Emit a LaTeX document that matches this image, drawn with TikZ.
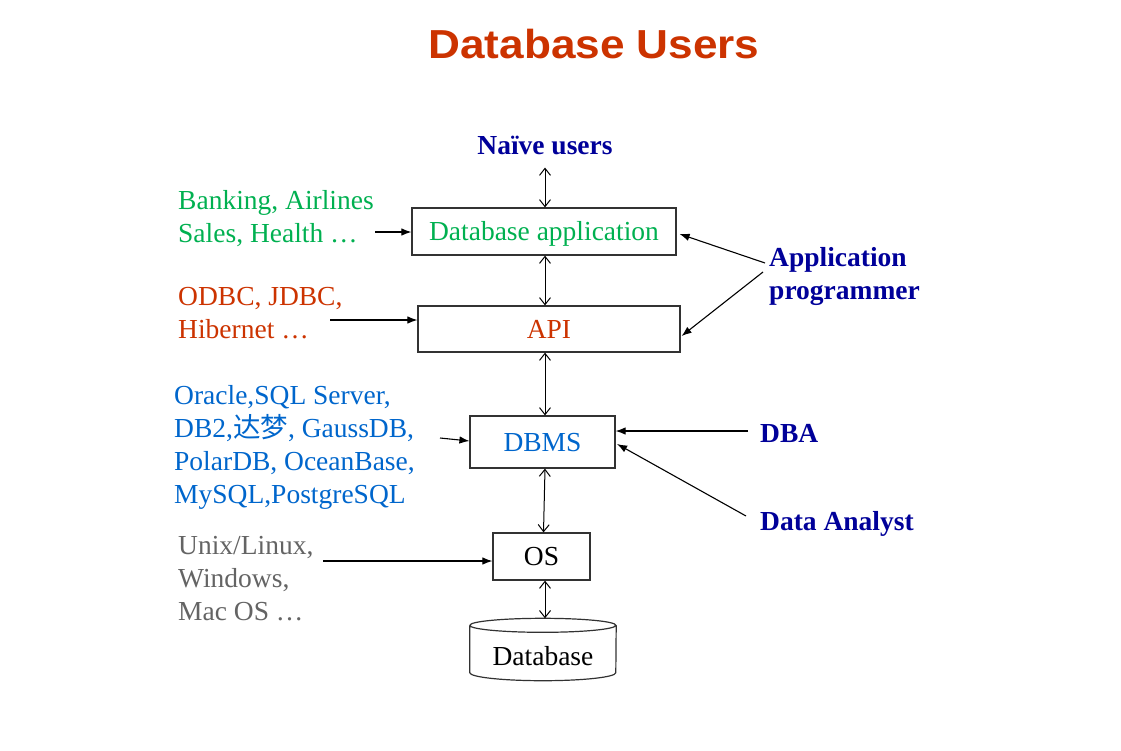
\documentclass[tikz,border=0pt]{standalone}
\usepackage{fontspec}
\setmainfont{Liberation Serif}
\newfontfamily\titlefont{Liberation Sans}
\newfontfamily\cjk{Noto Sans CJK SC}
\usetikzlibrary{arrows.meta}
\definecolor{titlered}{RGB}{204,51,0}
\definecolor{navy}{RGB}{0,0,153}
\definecolor{appgreen}{RGB}{0,176,80}
\definecolor{apired}{RGB}{204,51,0}
\definecolor{dbblue}{RGB}{0,102,204}
\definecolor{osgray}{RGB}{100,100,100}
\definecolor{boxline}{RGB}{50,50,50}
\tikzset{
  txt/.style={inner sep=0pt, font=\fontsize{27.5}{33}\selectfont, align=left},
  boldtxt/.style={txt, font=\fontsize{27.5}{33}\selectfont\bfseries, text=navy},
  layer/.style={draw=boxline, line width=1.2pt, inner sep=0pt, text height=18.5, text depth=0, font=\fontsize{27.5}{33}\selectfont},
  dbl/.style={line width=1pt, {Straight Barb[length=7,width=11]}-{Straight Barb[length=7,width=11]}},
  sarr/.style={line width=1.1pt, -{Latex[length=10,width=7.5]}},
}
\begin{document}
\begin{tikzpicture}[x=1pt,y=-1pt]
\useasboundingbox (0,0) rectangle (1121,750);
% title
\node (title) [font=\titlefont\fontsize{40.5}{44}\selectfont\bfseries, text=titlered, xscale=1.09, inner sep=0pt] at (594,44) {Database Users};
% layers
\node (naive) [boldtxt, inner sep=0pt] at (545,145) {Naïve users};
\node (app) [layer, minimum width=264, minimum height=47, text=appgreen] at (544,231.5) {Database application};
\node (api) [layer, minimum width=262, minimum height=46, text=apired] at (549,329) {API};
\node (dbms) [layer, minimum width=145, minimum height=52, text=dbblue] at (542.5,442) {DBMS};
\node (os) [layer, minimum width=97, minimum height=47] at (541.5,556.5) {OS};
\node (db) [minimum width=146, minimum height=62, inner sep=0pt, text height=31.5, text depth=0, font=\fontsize{27.5}{33}\selectfont] at (543,649.5) {Database};
\draw[boxline, line width=1.2pt]
  ([yshift=-7]db.north west) arc[start angle=180, end angle=-180, x radius=73, y radius=7]
  ([yshift=-7]db.north west) -- ([yshift=8]db.south west)
  arc[start angle=180, end angle=0, x radius=73, y radius=8]
  -- ([yshift=-7]db.north east);
% left texts
\node (bank) [txt, text=appgreen, anchor=west] at (178,219) {Banking, Airlines\\Sales, Health …};
\node (odbc) [txt, text=apired, anchor=west] at (178,313) {ODBC, JDBC,\\Hibernet …};
\node (orcl) [txt, text=dbblue, anchor=west] at (174,447) {Oracle,SQL Server,\\DB2,{\cjk 达梦}, GaussDB,\\PolarDB, OceanBase,\\MySQL,PostgreSQL};
\node (unix) [txt, text=osgray, anchor=west] at (178,579) {Unix/Linux,\\Windows,\\Mac OS …};
% right texts
\node (prog) [boldtxt, anchor=west] at (769,276) {Application\\programmer};
\node (dba) [boldtxt, anchor=west] at (760,433) {DBA};
\node (analyst) [boldtxt, anchor=west] at (760,523.5) {Data Analyst};
% free ends
\coordinate (bankend) at (375,232);
\coordinate (odbcend) at (330,320);
\coordinate (orclend) at (440,438);
\coordinate (unixend) at (323,561);
\coordinate (progA) at (765,263);
\coordinate (progB) at (763,272);
\coordinate (dbaend) at (748,431);
\coordinate (anaend) at (746,516);
% vertical double arrows
\draw[dbl] ([yshift=-13]naive.south) -- (app.north -| naive);
\draw[dbl] (app.south -| naive) -- (api.north -| naive);
\draw[dbl] (api.south -| naive) -- (dbms.north -| naive);
\draw[dbl] (dbms.south -| naive) -- ([xshift=2]os.north);
\draw[dbl] ([xshift=3.5]os.south) -- ([xshift=2]db.north);
% single arrows
\draw[sarr] (bankend) -- (bankend -| app.west);
\draw[sarr] (odbcend) -- (odbcend -| api.west);
\draw[sarr] (orclend) -- ([yshift=1]dbms.west);
\draw[sarr] (unixend) -- (unixend -| os.west);
\draw[sarr] (progA) -- ([xshift=3,yshift=-2.5]app.east);
\draw[sarr] (progB) -- ([xshift=1,yshift=-7]api.east);
\draw[sarr] (dbaend) -- (dbaend -| dbms.east);
\draw[sarr] (anaend) -- ([xshift=1.5,yshift=-2]dbms.east);
\end{tikzpicture}
\end{document}
